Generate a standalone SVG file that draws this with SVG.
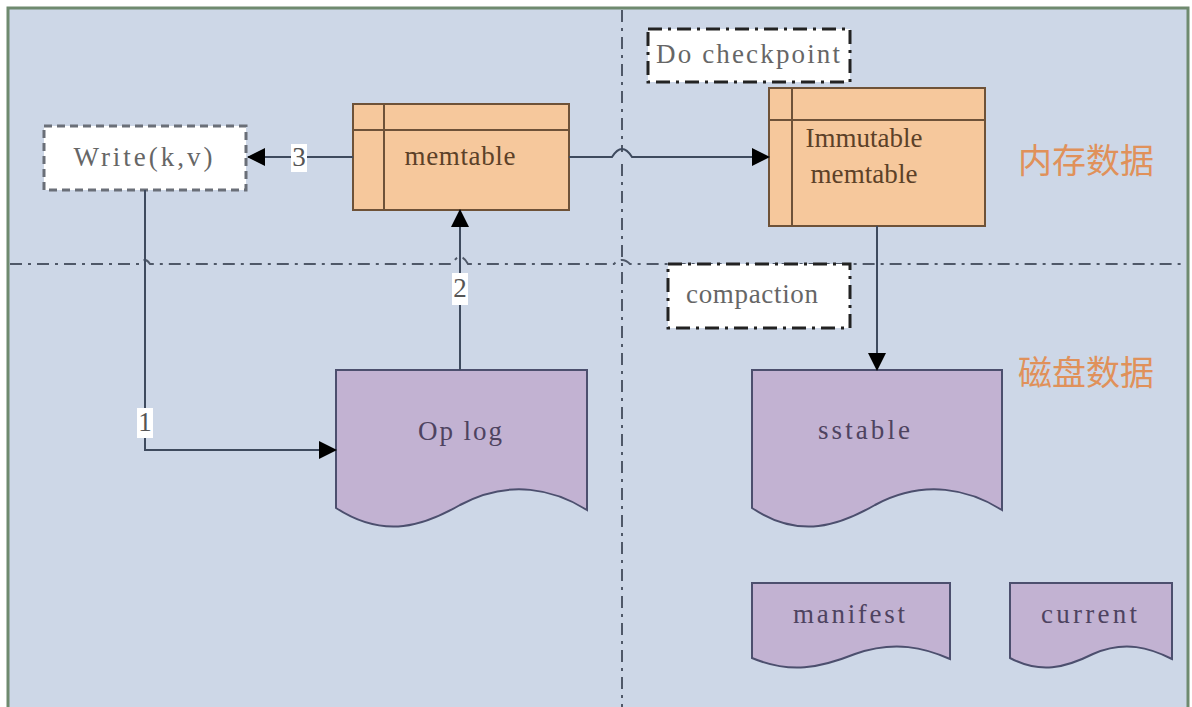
<svg xmlns="http://www.w3.org/2000/svg" width="1192" height="707" viewBox="0 0 1192 707">
<style>
.mono{font-family:"Liberation Serif","DejaVu Serif",serif;font-size:27px;text-anchor:middle;dominant-baseline:central}
.tbl{fill:#f6c89c;stroke:#6e5238;stroke-width:2}
.tline{stroke:#6e5238;stroke-width:2}
.doc{fill:#c2b2d2;stroke:#4c4f6e;stroke-width:2}
.conn{fill:none;stroke:#3e4a5e;stroke-width:2}
.guide{fill:none;stroke:#4f5868;stroke-width:2;stroke-dasharray:12 6 3 6}
.cjk{font-family:"Noto Sans CJK SC",sans-serif;font-size:34px;fill:#e0915a;dominant-baseline:central}
.lbl{fill:#ffffff}
</style>
<defs>
<marker id="arrB" markerWidth="18" markerHeight="18" refX="17" refY="9" orient="auto" markerUnits="userSpaceOnUse" viewBox="0 0 18 18">
<path d="M0,0 L18,9 L0,18 Z" fill="#000"/>
</marker>
</defs>
<rect x="0" y="0" width="1192" height="707" fill="#ffffff"/>
<rect x="8" y="8" width="1180" height="710" fill="#cdd7e7" stroke="#6f8a6f" stroke-width="3"/>
<g id="guides">
<path class="guide" d="M622,10 V152 M622,164 V707"/>
<path class="guide" d="M10,264 H140 q5,-8 10,0 H452 q8,-14 16,0 H614 q8,-8 16,0 H1186"/>
</g>
<g id="write">
<rect x="44" y="126" width="202" height="64" fill="#ffffff" stroke="#6a6f78" stroke-width="3" stroke-dasharray="8 5"/>
<text class="mono" x="143" y="157" fill="#666" textLength="139" lengthAdjust="spacing">Write(k,v)</text>
</g>
<g id="memtable">
<rect class="tbl" x="353" y="104" width="216" height="106"/>
<line class="tline" x1="353" y1="130" x2="569" y2="130"/>
<line class="tline" x1="384" y1="104" x2="384" y2="210"/>
<text class="mono" x="460" y="156" fill="#5c4128" textLength="111" lengthAdjust="spacing">memtable</text>
</g>
<g id="checkpoint">
<rect x="648" y="29" width="202" height="53" fill="#ffffff" stroke="#222" stroke-width="3" stroke-dasharray="14 6 3 6"/>
<text class="mono" x="748" y="54" fill="#666" textLength="184" lengthAdjust="spacing">Do checkpoint</text>
</g>
<g id="immutable">
<rect class="tbl" x="769" y="88" width="216" height="138"/>
<line class="tline" x1="769" y1="120" x2="985" y2="120"/>
<line class="tline" x1="792" y1="88" x2="792" y2="226"/>
<text class="mono" x="864" y="138" fill="#5c4128" textLength="117" lengthAdjust="spacing">Immutable</text>
<text class="mono" x="864" y="174" fill="#5c4128" textLength="107" lengthAdjust="spacing">memtable</text>
</g>
<g id="label-mem">
<text class="cjk" x="1018" y="158">内存数据</text>
</g>
<g id="compaction">
<rect x="668" y="264" width="182" height="64" fill="#ffffff" stroke="#222" stroke-width="3" stroke-dasharray="14 6 3 6"/>
<text class="mono" x="752" y="294" fill="#666" textLength="132" lengthAdjust="spacing">compaction</text>
</g>
<g id="label-disk">
<text class="cjk" x="1018" y="370">磁盘数据</text>
</g>
<g id="oplog">
<path class="doc" d="M336,370 H587 V510 C555,490 510,478 460,505 C425,525 385,540 336,508 Z"/>
<text class="mono" x="460" y="431" fill="#4e4360" textLength="84" lengthAdjust="spacing">Op log</text>
</g>
<g id="sstable">
<path class="doc" d="M752,370 H1002 V510 C970,490 925,478 875,505 C840,525 800,540 752,508 Z"/>
<text class="mono" x="864" y="430" fill="#4e4360" textLength="92" lengthAdjust="spacing">sstable</text>
</g>
<g id="manifest">
<path class="doc" d="M752,583 H950 V659 C925,648 895,640 855,654 C820,668 790,674 752,658 Z"/>
<text class="mono" x="849" y="614" fill="#4e4360" textLength="112" lengthAdjust="spacing">manifest</text>
</g>
<g id="current">
<path class="doc" d="M1010,583 H1172 V659 C1150,648 1125,640 1093,654 C1065,668 1040,674 1010,658 Z"/>
<text class="mono" x="1089" y="614" fill="#4e4360" textLength="96" lengthAdjust="spacing">current</text>
</g>
<g id="connectors">
<path class="conn" d="M353,157 H248" marker-end="url(#arrB)"/>
<rect class="lbl" x="291" y="144" width="16" height="28"/>
<text class="mono" x="299" y="157" fill="#555">3</text>
<path class="conn" d="M569,157 H612 q10,-16 20,0 H769" marker-end="url(#arrB)"/>
<path class="conn" d="M145,190 V450 H336" marker-end="url(#arrB)"/>
<rect class="lbl" x="137" y="408" width="16" height="30"/>
<text class="mono" x="145" y="422" fill="#555">1</text>
<path class="conn" d="M460,370 V210" marker-end="url(#arrB)"/>
<rect class="lbl" x="452" y="273" width="16" height="32"/>
<text class="mono" x="460" y="288" fill="#555">2</text>
<path class="conn" d="M877,226 V370" marker-end="url(#arrB)"/>
</g>
</svg>
